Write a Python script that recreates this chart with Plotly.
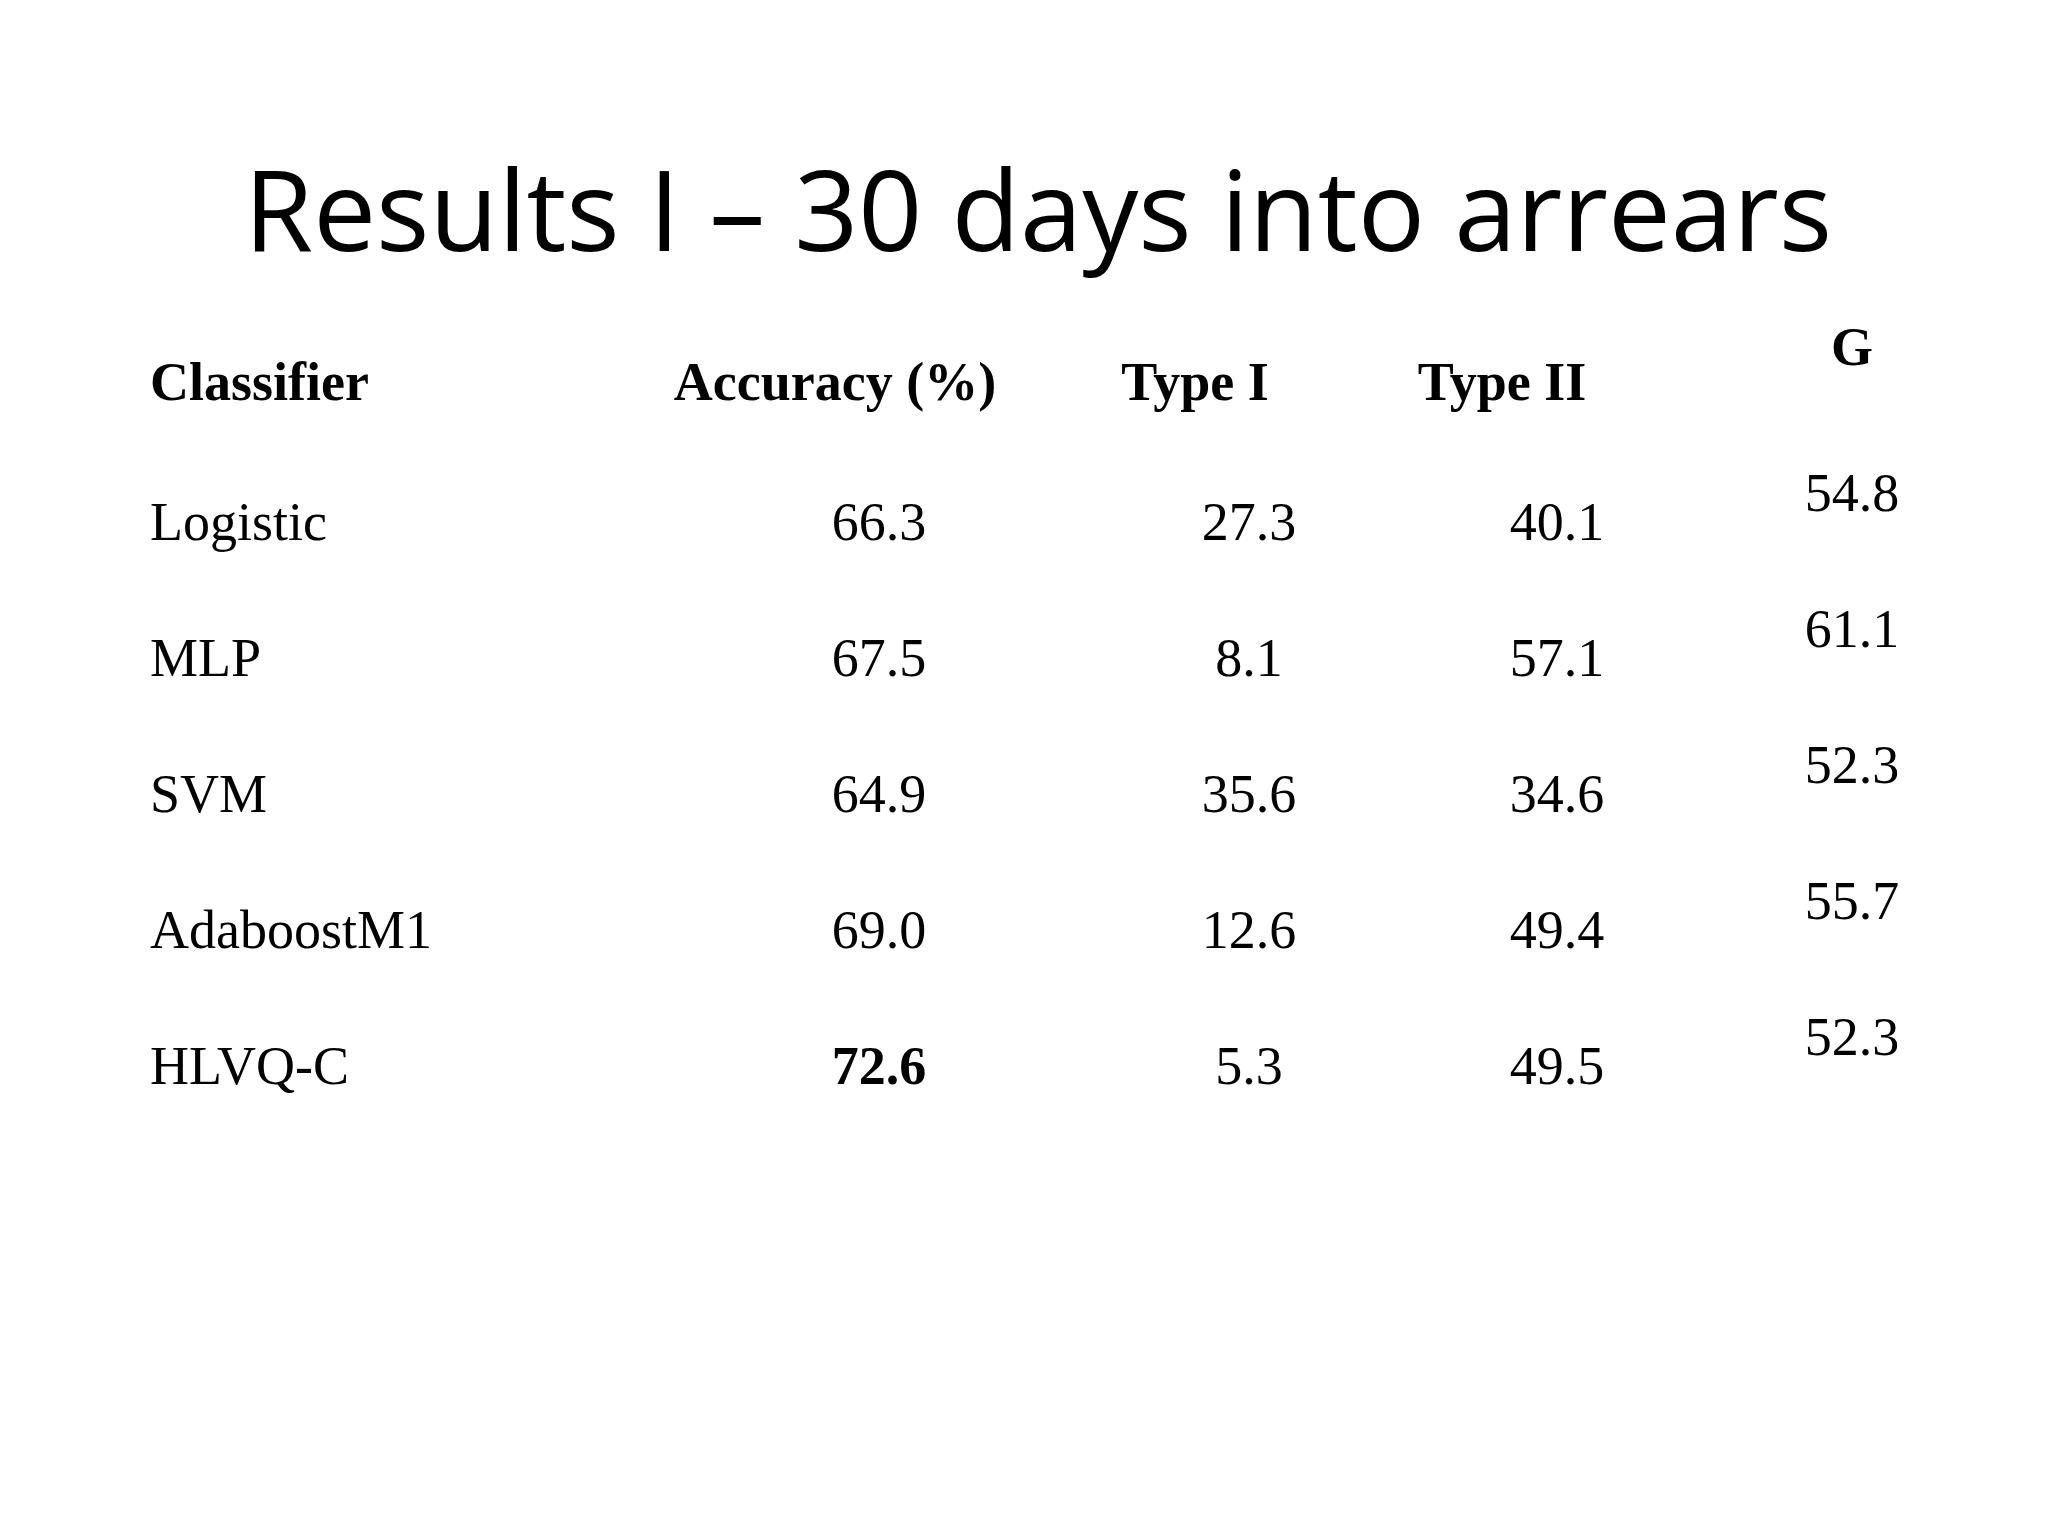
import plotly.graph_objects as go

classifiers = ["Logistic", "MLP", "SVM", "AdaboostM1", "HLVQ-C"]
accuracy = ["66.3", "67.5", "64.9", "69.0", "72.6"]
type_1 = ["27.3", "8.1", "35.6", "12.6", "5.3"]
type_2 = ["40.1", "57.1", "34.6", "49.4", "49.5"]
g_values = ["54.8", "61.1", "52.3", "55.7", "52.3"]
headers = ["Classifier", "Accuracy (%)", "Type I", "Type II", "G"]
best_row = 4  # bold accuracy

W, H = 2048, 1536
row0, step = 518, 136
header_y = 378
g_shift = -29
font = "Liberation Serif"
fs = 54

fig = go.Figure()
rows_y = [row0 + i * step for i in range(len(classifiers))]

# header row
hx = [142, 827, 1187, 1494, 1844]
hy = [header_y] * 4 + [header_y - 35]
for i, h in enumerate(headers):
    fig.add_trace(go.Scatter(
        x=[hx[i]], y=[hy[i]], mode="text", text=[f"<b>{h}</b>"],
        textposition="middle right" if i == 0 else "middle center",
        textfont=dict(family=font, size=fs, color="black"), hoverinfo="skip"))

fig.add_trace(go.Scatter(
    x=[142] * 5, y=rows_y, mode="text", text=classifiers,
    textposition="middle right",
    textfont=dict(family=font, size=fs, color="black"), hoverinfo="skip"))

acc_text = [f"<b>{v}</b>" if i == best_row else v for i, v in enumerate(accuracy)]
for xc, col, dy in [(871, acc_text, 0), (1241, type_1, 0),
                    (1549, type_2, 0), (1844, g_values, g_shift)]:
    fig.add_trace(go.Scatter(
        x=[xc] * len(col), y=[y + dy for y in rows_y], mode="text", text=col,
        textposition="middle center",
        textfont=dict(family=font, size=fs, color="black"), hoverinfo="skip"))

fig.update_layout(
    width=W, height=H, margin=dict(l=0, r=0, t=0, b=0),
    paper_bgcolor="white", plot_bgcolor="white", showlegend=False,
    xaxis=dict(range=[0, W], visible=False, fixedrange=True),
    yaxis=dict(range=[H, 0], visible=False, fixedrange=True),
    title=dict(text="Results I \u2013 30 days into arrears", x=0.503, y=1 - 204 / H,
               xanchor="center", yanchor="middle",
               font=dict(family="Open Sans", size=112, color="black")),
)
fig.write_html("out.html")
